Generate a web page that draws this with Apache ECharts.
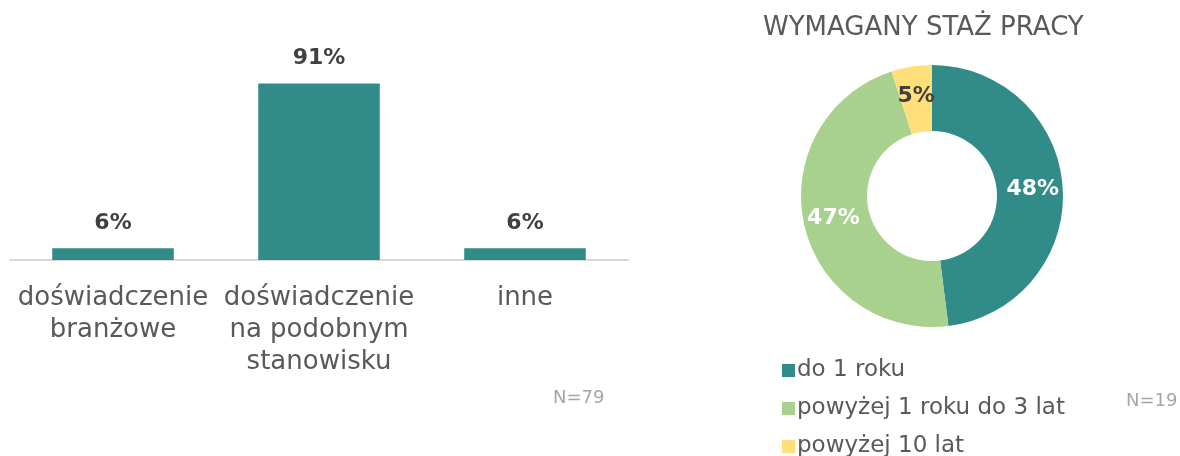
<!DOCTYPE html>
<html>
<head>
<meta charset="utf-8">
<script src="https://cdn.jsdelivr.net/npm/echarts@6/dist/echarts.min.js"></script>
<style>
	html, body { margin: 0; padding: 0; background: #fff; }
	#chart { width: 1180px; height: 456px; }
</style>
</head>
<body>
<div id="chart"></div>
<script>
	// wymagane doświadczenie (słupki)
	var barCategories = ['doświadczenie\nbranżowe', 'doświadczenie\nna podobnym\nstanowisku', 'inne'];
	var barValues = [6, 91, 6];
	// wymagany staż pracy (pierścień)
	var pieNames = ['do 1 roku', 'powyżej 1 roku do 3 lat', 'powyżej 10 lat'];
	var pieValues = [48, 47, 5];
	var pieColors = ['#318b88', '#a9d18e', '#ffdf79'];
	var pieLabelColors = ['#ffffff', '#ffffff', '#404040'];

	var font = '"DejaVu Sans", sans-serif';
	var myChart = echarts.init(document.getElementById('chart'));

	var pieData = pieNames.map(function (name, i) {
		return {
			name: name,
			value: pieValues[i],
			itemStyle: { color: pieColors[i] },
			label: { color: pieLabelColors[i] }
		};
	});

	// osobna legenda dla każdej pozycji, żeby się nie zawijała
	var legends = pieNames.map(function (name, i) {
		return {
			orient: 'vertical',
			left: 777,
			top: 354 + i * 38,
			itemWidth: 13,
			itemHeight: 13,
			itemGap: 0,
			icon: 'rect',
			textStyle: { color: '#595959', fontSize: 23, fontFamily: font, padding: [0, 0, 0, -3] },
			data: [name]
		};
	});

	myChart.setOption({
		animation: false,
		textStyle: { fontFamily: font },
		title: [{
			text: 'WYMAGANY STAŻ PRACY',
			left: 758,
			top: 10,
			textStyle: { color: '#595959', fontSize: 26, fontWeight: 'normal', fontFamily: font }
		}, {
			text: 'N=79',
			left: 548,
			top: 384,
			textStyle: { color: '#a6a6a6', fontSize: 18, fontWeight: 'normal', fontFamily: font }
		}, {
			text: 'N=19',
			left: 1121,
			top: 387,
			textStyle: { color: '#a6a6a6', fontSize: 18, fontWeight: 'normal', fontFamily: font }
		}],
		legend: legends,
		grid: {
			left: 10,
			right: 552,
			top: 66,
			bottom: 196
		},
		xAxis: {
			type: 'category',
			data: barCategories,
			axisTick: { show: false },
			axisLine: { lineStyle: { color: '#d9d9d9', width: 2 } },
			axisLabel: {
				color: '#595959',
				fontSize: 26,
				lineHeight: 32,
				margin: 22,
				interval: 0,
				fontFamily: font
			}
		},
		yAxis: {
			type: 'value',
			min: 0,
			max: 100,
			show: false
		},
		series: [{
			type: 'bar',
			data: barValues,
			barWidth: '59%',
			itemStyle: { color: '#318b88' },
			label: {
				show: true,
				position: 'top',
				distance: 14,
				formatter: '{c}%',
				color: '#404040',
				fontSize: 22,
				fontWeight: 'bold',
				fontFamily: font
			}
		}, {
			type: 'pie',
			center: [932, 196],
			radius: [65, 131],
			startAngle: 90,
			clockwise: true,
			data: pieData,
			label: {
				show: true,
				position: 'inside',
				formatter: '{c}%',
				fontSize: 22,
				fontWeight: 'bold',
				fontFamily: font
			},
			labelLine: { show: false },
			emphasis: { disabled: true }
		}]
	});
</script>
</body>
</html>
